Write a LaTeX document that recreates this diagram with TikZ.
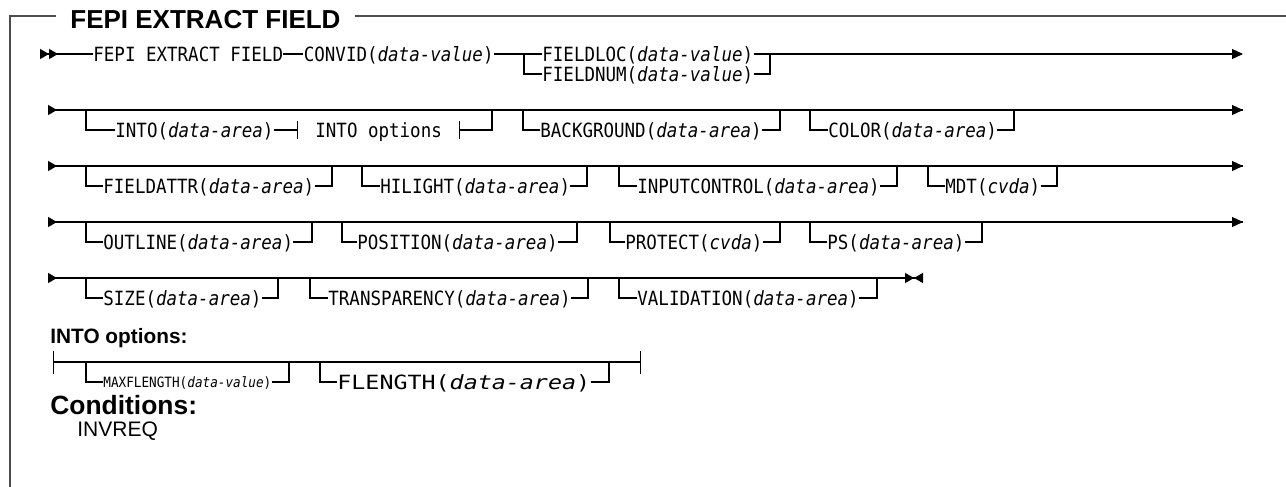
\documentclass[tikz,border=0pt]{standalone}
\usepackage{fontspec}
\setmainfont{Liberation Sans}
\newfontfamily\synfont[FakeStretch=0.893]{DejaVu Sans Mono}
\newfontfamily\flfont[FakeStretch=1.19]{DejaVu Sans Mono}
\usetikzlibrary{arrows.meta,positioning}
\newcommand{\titlefont}{\fontsize{13}{15}\selectfont\bfseries}
\newcommand{\condfont}{\fontsize{13.2}{15}\selectfont\bfseries}
\newcommand{\subfont}{\fontsize{10.4}{12}\selectfont\bfseries}
\newcommand{\errfont}{\fontsize{10.5}{12}\selectfont}
\newcommand{\kwfont}{\synfont\fontsize{9.8}{11}\selectfont}
\newcommand{\kwsmallfont}{\synfont\fontsize{7.1}{8}\selectfont}
\newcommand{\kwwidefont}{\flfont\fontsize{9.8}{11}\selectfont}
\newcommand{\varg}[1]{\textit{#1}}
\tikzset{
  rail/.style={line width=0.6pt},
  frame/.style={line width=1pt, black!70},
  kw/.style={font=\kwfont, inner sep=0pt, anchor=west, text height=7.1pt, text depth=0pt},
  kwsmall/.style={kw, font=\kwsmallfont, text height=5.2pt},
  kwwide/.style={kw, font=\kwwidefont},
  starttip/.style={{Triangle[reversed,length=4.5pt,width=5pt]}-},
  startdbl/.style={{Triangle[reversed,length=4.5pt,width=5pt]Triangle[reversed,length=4.5pt,width=5pt]}-},
  endarr/.style={-{Triangle[length=5.5pt,width=5pt]}},
  stoparr/.style={-{Triangle[length=4.5pt,width=5pt]Triangle[reversed,length=4.5pt,width=5pt]}}
}
% optional item below a rail: name, corner x, text x, join x, rail y, text
\newcommand{\optitem}[6]{%
  \coordinate (#1-in) at (#2,#5);
  \coordinate (#1-out) at (#4,#5);
  \node[kw] (#1) at (#3,#5+20) {#6};
  \draw[rail] (#1-in) |- (#1.west);
  \draw[rail] (#1.east) -| (#1-out);
}

\begin{document}
\begin{tikzpicture}[x=0.5pt,y=-0.5pt]
  \useasboundingbox (0,0) rectangle (1286,487);

  %% frame and title
  \coordinate (ft-l) at (10,16);
  \coordinate (ft-r) at (1286,16);
  \coordinate (fb) at (10,487);
  \node[font=\titlefont, inner xsep=7pt, inner ysep=0pt, anchor=base west] (title) at (56,28) {FEPI EXTRACT FIELD};
  \draw[frame] (fb) -- (ft-l) -- (title.west |- ft-l);
  \draw[frame] (title.east |- ft-r) -- (ft-r);

  %% row 1
  \coordinate (r1s) at (40,54);
  \coordinate (r1e) at (1243,54);
  \node[kw] (fepi) at (93,54) {FEPI EXTRACT FIELD};
  \node[kw, right=10pt of fepi] (convid) {CONVID(\varg{data-value})};
  \node[kw] (fieldloc) at (542,54) {FIELDLOC(\varg{data-value})};
  \node[kw] (fieldnum) at (542,74) {FIELDNUM(\varg{data-value})};
  \coordinate (fl-in) at (524,54);
  \coordinate (fl-out) at (770,54);
  \draw[rail, startdbl] (r1s) -- (fepi.west);
  \draw[rail] (fepi.east) -- (convid.west);
  \draw[rail] (convid.east) -- (fieldloc.west);
  \draw[rail] (fl-in) |- (fieldnum.west);
  \draw[rail] (fieldnum.east) -| (fl-out);
  \draw[rail, endarr] (fieldloc.east) -- (r1e);

  %% row 2
  \coordinate (r2s) at (48,110);
  \coordinate (r2e) at (1243,110);
  \draw[rail, starttip] (r2s) -- (r2e);
  \draw[rail, endarr] (r2s) -- (r2e);
  \coordinate (into-in) at (86,110);
  \coordinate (into-out) at (492,110);
  \node[kw] (into) at (115,130) {INTO(\varg{data-area})};
  \node[kw, inner xsep=8.5pt] (intoref) at (298,130) {INTO options};
  \draw[rail] (into-in) |- (into.west);
  \draw[rail, -{Bar[width=9pt]}] (into.east) -- (intoref.west);
  \draw[rail, {Bar[width=9pt]}-] (intoref.east) -| (into-out);
  \optitem{background}{523}{540}{780}{110}{BACKGROUND(\varg{data-area})}
  \optitem{color}{810}{828}{1014}{110}{COLOR(\varg{data-area})}

  %% row 3
  \coordinate (r3s) at (48,166);
  \coordinate (r3e) at (1243,166);
  \draw[rail, starttip] (r3s) -- (r3e);
  \draw[rail, endarr] (r3s) -- (r3e);
  \optitem{fieldattr}{86}{103}{332}{166}{FIELDATTR(\varg{data-area})}
  \optitem{hilight}{362}{380}{587}{166}{HILIGHT(\varg{data-area})}
  \optitem{inputcontrol}{619}{637}{897}{166}{INPUTCONTROL(\varg{data-area})}
  \optitem{mdt}{928}{945}{1057}{166}{MDT(\varg{cvda})}

  %% row 4
  \coordinate (r4s) at (48,222);
  \coordinate (r4e) at (1243,222);
  \draw[rail, starttip] (r4s) -- (r4e);
  \draw[rail, endarr] (r4s) -- (r4e);
  \optitem{outline}{86}{103}{312}{222}{OUTLINE(\varg{data-area})}
  \optitem{position}{342}{357}{577}{222}{POSITION(\varg{data-area})}
  \optitem{protect}{610}{625}{780}{222}{PROTECT(\varg{cvda})}
  \optitem{ps}{810}{827}{982}{222}{PS(\varg{data-area})}

  %% row 5
  \coordinate (r5s) at (48,278);
  \coordinate (r5e) at (923,278);
  \draw[rail, starttip] (r5s) -- (r5e);
  \draw[rail, stoparr] (r5s) -- (r5e);
  \optitem{size}{86}{103}{278}{278}{SIZE(\varg{data-area})}
  \optitem{transparency}{310}{328}{588}{278}{TRANSPARENCY(\varg{data-area})}
  \optitem{validation}{619}{637}{877}{278}{VALIDATION(\varg{data-area})}

  %% INTO options fragment
  \node[font=\subfont, inner sep=0pt, anchor=base west] (intohead) at (50,343) {INTO options:};
  \coordinate (io-s) at (53,362);
  \coordinate (io-e) at (641,362);
  \draw[rail, {Bar[width=11.5pt]}-{Bar[width=11.5pt]}] (io-s) -- (io-e);
  \coordinate (maxfl-in) at (86,362);
  \coordinate (maxfl-out) at (289,362);
  \node[kwsmall] (maxfl) at (103,382) {MAXFLENGTH(\varg{data-value})};
  \draw[rail] (maxfl-in) |- (maxfl.west);
  \draw[rail] (maxfl.east) -| (maxfl-out);
  \coordinate (flength-in) at (320,362);
  \coordinate (flength-out) at (609,362);
  \node[kwwide] (flength) at (337,382) {FLENGTH(\varg{data-area})};
  \draw[rail] (flength-in) |- (flength.west);
  \draw[rail] (flength.east) -| (flength-out);

  %% conditions
  \node[font=\condfont, inner sep=0pt, anchor=base west] (condhead) at (50,414) {Conditions:};
  \node[font=\errfont, inner sep=0pt, anchor=base west] (invreq) at (77,436) {INVREQ};
\end{tikzpicture}
\end{document}
